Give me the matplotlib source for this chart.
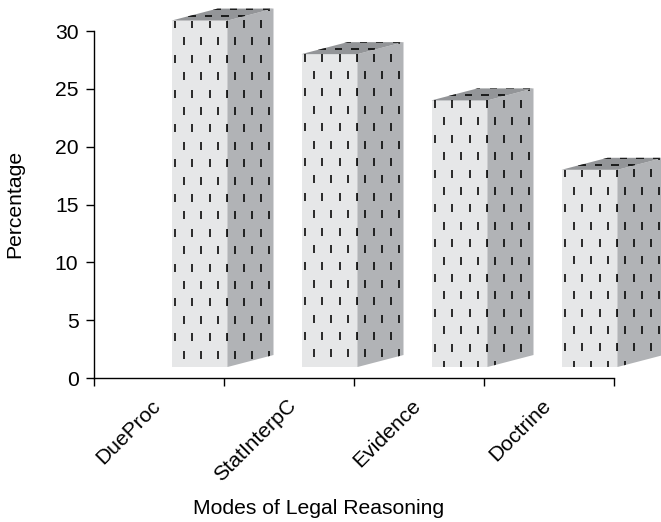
import numpy as np
import matplotlib
matplotlib.use("Agg")
import matplotlib.pyplot as plt
from matplotlib.patches import Polygon
from matplotlib.collections import LineCollection

categories = ["DueProc", "StatInterpC", "Evidence", "Doctrine"]
bar_slots = [0, 1, 2, 3]
heights = [30.9, 28.0, 24.0, 18.0]
yticks = [0, 5, 10, 15, 20, 25, 30]
ylabel = "Percentage"
xlabel = "Modes of Legal Reasoning"

plt.rcParams["font.family"] = ["Liberation Sans", "DejaVu Sans"]
W, H = 661, 522
fig = plt.figure(figsize=(W / 100, H / 100), dpi=100)
L, R, T, B = 93.5, 613.5, 31, 378
ax = fig.add_axes([L / W, 1 - B / H, (R - L) / W, (B - T) / H])
ax.set_xlim(0, 4)
ax.set_ylim(0, 30)
PX = (R - L) / 4      # px per x unit
PY = (B - T) / 30     # px per y unit

base = 0.95
left_off = 78 / PX
width = 56 / PX
dx = 46 / PX
dy = 12 / PY
FRONT, SIDE, TOP = "#e6e7e8", "#b1b3b6", "#939598"
lw = 1.15


def dashes(x0, x1, y0, y1, sx, sy, ln, horizontal=False, xref=0.0, yref=0.0):
    segs = []
    i0 = int(np.floor((y0 - yref) / sy)) - 1
    i1 = int(np.ceil((y1 - yref) / sy)) + 1
    for r in range(i0, i1 + 1):
        yy = yref + r * sy
        shift = (r % 2) * sx / 2
        k0 = int(np.floor((x0 - xref) / sx)) - 1
        k1 = int(np.ceil((x1 - xref) / sx)) + 1
        for k in range(k0, k1 + 1):
            xx = xref + k * sx + shift
            if horizontal:
                segs.append([(xx - ln / 2, yy), (xx + ln / 2, yy)])
            else:
                segs.append([(xx, yy - ln / 2), (xx, yy + ln / 2)])
    return segs


for slot, h in zip(bar_slots, heights):
    x0 = slot + left_off
    x1 = x0 + width
    faces = [
        ([(x0, base), (x1, base), (x1, h), (x0, h)], FRONT),
        ([(x1, base), (x1 + dx, base + dy), (x1 + dx, h + dy), (x1, h)], SIDE),
        ([(x0, h), (x1, h), (x1 + dx, h + dy), (x0 + dx, h + dy)], TOP),
    ]
    for idx, (pts, col) in enumerate(faces):
        poly = Polygon(pts, closed=True, fc=col, ec="none", clip_on=False, zorder=3)
        ax.add_patch(poly)
        if idx < 2:
            segs = dashes(x0, x1 + dx, base, h + dy, 17.1 / PX, 17.4 / PY, 8 / PY,
                          xref=x0 + 3.8 / PX, yref=h - 3.5 / PY)
        else:
            segs = dashes(x0, x1 + dx, h, h + dy, 16.5 / PX, 7 / PY, 7.5 / PX,
                          horizontal=True, xref=x0 + 4 / PX, yref=h + 5 / PY)
        lc = LineCollection(segs, colors="#000000", linewidths=lw, zorder=4)
        ax.add_collection(lc, autolim=False)
        lc.set_clip_box(fig.bbox)
        lc.set_clip_path(poly)

for s in ("top", "right"):
    ax.spines[s].set_visible(False)
for s in ("left", "bottom"):
    ax.spines[s].set_linewidth(1.0)
    ax.spines[s].set_zorder(5)

ax.set_yticks(yticks)
ax.tick_params(axis="y", length=5.8, width=1.0, labelsize=15.2, pad=5)
ax.set_xticks(np.arange(5))
ax.set_xticklabels([])
ax.tick_params(axis="x", which="major", length=5.8, width=1.0)
ax.set_xticks([0.44, 1.485, 2.44, 3.445], categories, minor=True)
ax.tick_params(axis="x", which="minor", length=0, labelsize=15.2, pad=13)
for t in ax.get_xticklabels(minor=True):
    t.set_rotation(45)
    t.set_ha("right")
    t.set_va("top")
    t.set_rotation_mode("anchor")

fig.text(15 / W, 1 - 204 / H, ylabel, rotation=90, ha="center", va="center", fontsize=15.2)
fig.text(319 / W, 1 - 509 / H, xlabel, ha="center", va="center", fontsize=15.2)

fig.savefig("out.png", dpi=100)
